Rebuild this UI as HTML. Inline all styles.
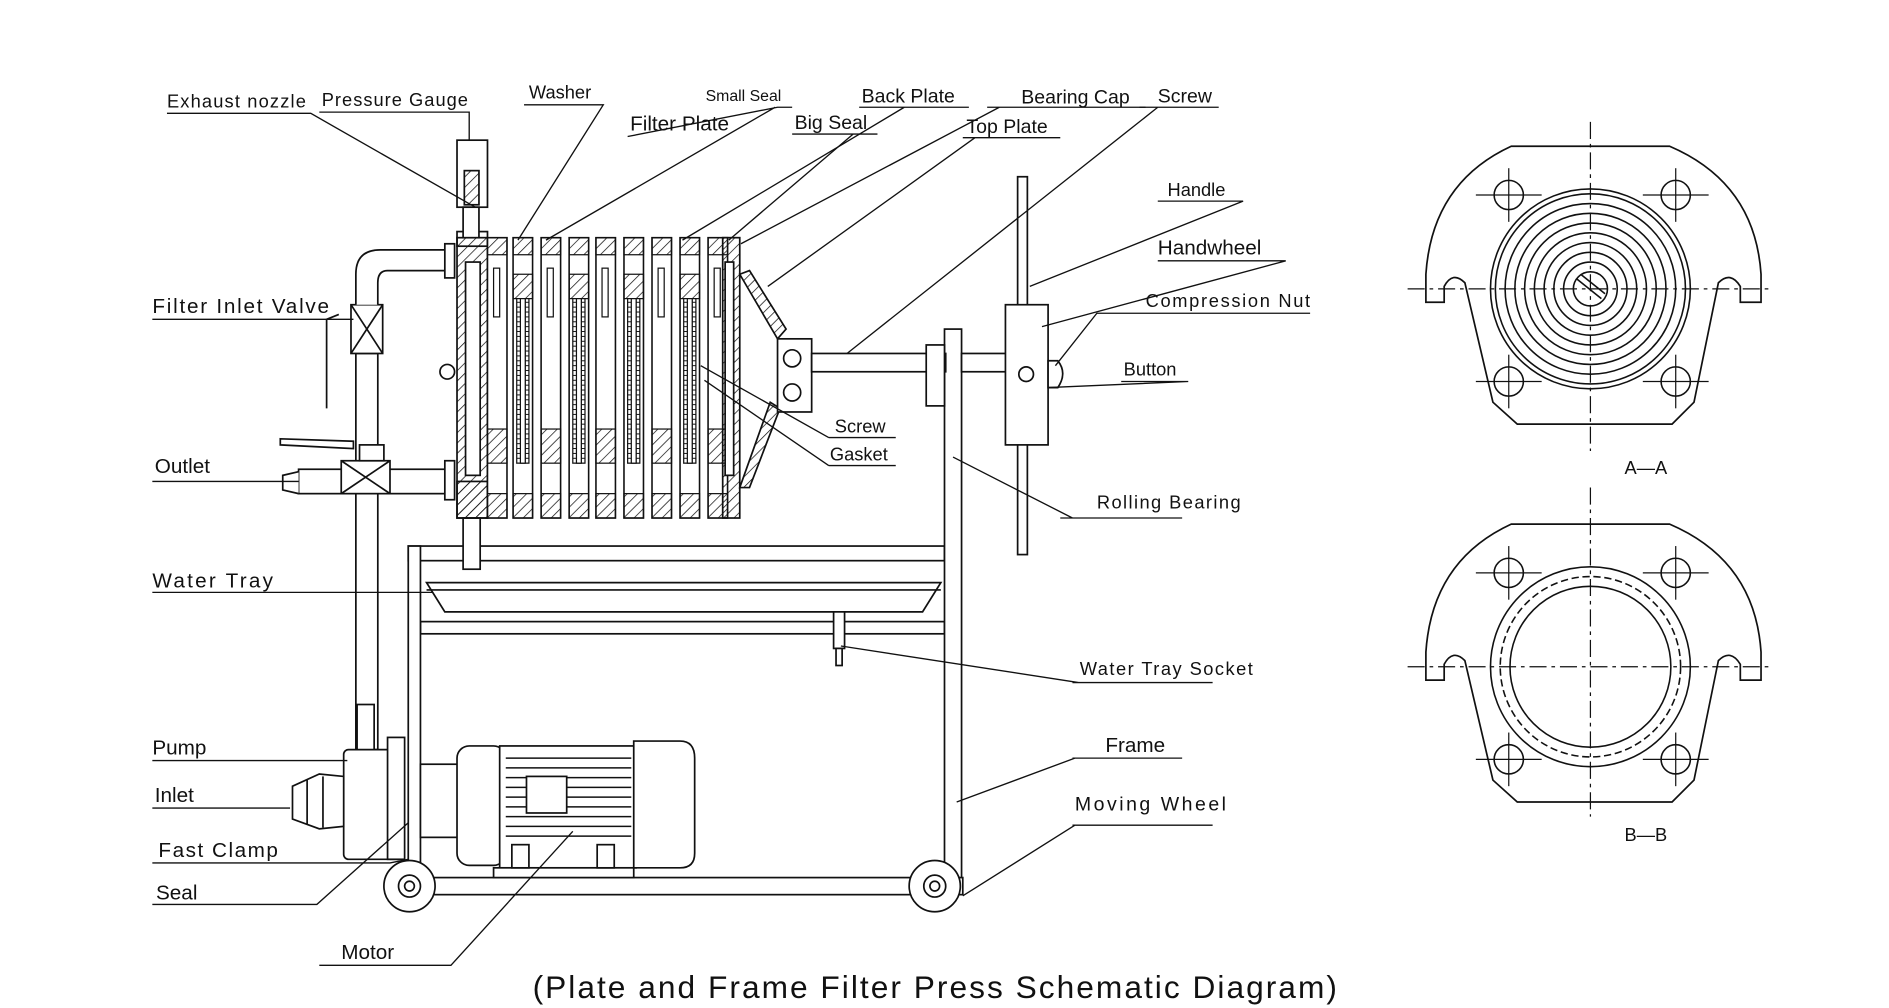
<!DOCTYPE html>
<html><head><meta charset="utf-8"><style>
html,body{margin:0;padding:0;background:#fff;}
svg{display:block;}
text{font-family:"Liberation Sans",sans-serif;fill:#111;}
</style></head><body>
<svg width="1889" height="1008" viewBox="0 0 1550 827" preserveAspectRatio="none" xmlns="http://www.w3.org/2000/svg">
<defs>
<pattern id="h" width="6" height="6" patternUnits="userSpaceOnUse" patternTransform="rotate(45)"><line x1="0" y1="0" x2="0" y2="6" stroke="#111" stroke-width="1.2"/></pattern>
<pattern id="g" width="10" height="4" patternUnits="userSpaceOnUse"><rect x="0" y="0" width="10" height="4" fill="#fff" stroke="#111" stroke-width="0.8"/></pattern>
<g id="pa">
<rect x="0" y="195" width="16" height="230" fill="#fff" stroke="#111" stroke-width="1.3"/>
<rect x="0" y="195" width="16" height="14" fill="url(#h)" stroke="#111"/>
<rect x="0" y="225" width="16" height="20" fill="url(#h)" stroke="#111"/>
<rect x="3" y="245" width="10" height="135" fill="url(#g)" stroke="#111"/>
<rect x="6" y="245" width="4" height="135" fill="#fff" stroke="#111"/>
<rect x="0" y="405" width="16" height="20" fill="url(#h)" stroke="#111"/>
</g>
<g id="pb">
<rect x="0" y="195" width="16" height="230" fill="#fff" stroke="#111" stroke-width="1.3"/>
<rect x="0" y="195" width="16" height="14" fill="url(#h)" stroke="#111"/>
<rect x="5" y="220" width="5" height="40" fill="#fff" stroke="#111"/>
<rect x="0" y="352" width="16" height="28" fill="url(#h)" stroke="#111"/>
<rect x="0" y="405" width="16" height="20" fill="url(#h)" stroke="#111"/>
</g>
<g id="bolt"><circle r="12" fill="none" stroke="#111" stroke-width="1.3"/><line x1="-27" y1="0" x2="27" y2="0" stroke="#111"/><line x1="0" y1="-22" x2="0" y2="22" stroke="#111"/></g>
<g id="body" fill="none" stroke="#111" stroke-width="1.4">
<path d="M1170,248 L1170,225 Q1175,150 1240,120 L1370,120 Q1440,150 1445,225 L1445,248 L1428,248 L1428,235 Q1420,222 1410,232 L1390,330 L1372,348 L1245,348 L1225,330 L1202,232 Q1192,222 1185,235 L1185,248 Z"/>
</g>
</defs>

<!-- right views -->
<g stroke="#111" fill="none">
<line x1="1305" y1="100" x2="1305" y2="370" stroke-dasharray="14,4,3,4"/>
<line x1="1155" y1="237" x2="1455" y2="237" stroke-dasharray="14,4,3,4"/>
<use href="#body"/>
<use href="#bolt" x="1238" y="160"/><use href="#bolt" x="1375" y="160"/>
<use href="#bolt" x="1238" y="313"/><use href="#bolt" x="1375" y="313"/>
<g stroke-width="1.3"><circle cx="1305" cy="237" r="14"/><circle cx="1305" cy="237" r="22"/><circle cx="1305" cy="237" r="30"/><circle cx="1305" cy="237" r="38"/><circle cx="1305" cy="237" r="46"/><circle cx="1305" cy="237" r="54"/><circle cx="1305" cy="237" r="62"/><circle cx="1305" cy="237" r="70"/><circle cx="1305" cy="237" r="78"/><circle cx="1305" cy="237" r="82"/>
<line x1="1294" y1="229" x2="1314" y2="245"/><line x1="1297" y1="225" x2="1317" y2="241"/></g>
</g>
<g stroke="#111" fill="none" transform="translate(0,310)">
<line x1="1305" y1="90" x2="1305" y2="360" stroke-dasharray="14,4,3,4"/>
<line x1="1155" y1="237" x2="1455" y2="237" stroke-dasharray="14,4,3,4"/>
<use href="#body"/>
<use href="#bolt" x="1238" y="160"/><use href="#bolt" x="1375" y="160"/>
<use href="#bolt" x="1238" y="313"/><use href="#bolt" x="1375" y="313"/>
<circle cx="1305" cy="237" r="82" stroke-width="1.3"/><circle cx="1305" cy="237" r="74" stroke-width="1.3" stroke-dasharray="6,3"/><circle cx="1305" cy="237" r="66" stroke-width="1.3"/>
</g>
<text x="1333" y="389" font-size="15">A—A</text>
<text x="1333" y="690" font-size="15">B—B</text>

<!-- frame -->
<g stroke="#111" fill="#fff" stroke-width="1.4">
<rect x="335" y="448" width="440" height="12"/>
<rect x="345" y="510" width="430" height="10"/>
<rect x="335" y="448" width="10" height="275"/>
<rect x="775" y="270" width="14" height="453"/>
<rect x="335" y="720" width="455" height="14"/>
<path d="M350,478 L772,478 L757,502 L365,502 Z"/>
<line x1="350" y1="484" x2="772" y2="484"/>
<rect x="684" y="502" width="9" height="30"/><rect x="686" y="532" width="5" height="14"/>
<rect x="380" y="425" width="14" height="42"/>
</g>
<!-- pump & pipes -->
<g stroke="#111" fill="#fff" stroke-width="1.4">
<rect x="292" y="290" width="18" height="325"/>
<path d="M292,290 L292,250 L310,250 L310,290"/>
<rect x="288" y="250" width="26" height="40"/><line x1="288" y1="250" x2="314" y2="290"/><line x1="314" y1="250" x2="288" y2="290"/>
<path d="M301,250 L301,215" />
<path d="M292,250 L292,225 Q292,205 312,205 L370,205 L370,222 L318,222 Q310,222 310,232 L310,250" />
<rect x="365" y="200" width="8" height="28"/>
<path d="M278,258 L268,262 L268,335" fill="none"/>
<rect x="245" y="385" width="125" height="20"/>
<rect x="280" y="378" width="40" height="27"/><line x1="280" y1="378" x2="320" y2="405"/><line x1="320" y1="378" x2="280" y2="405"/>
<rect x="295" y="365" width="20" height="13"/>
<path d="M230,360 L290,362 L290,368 L230,365 Z"/>
<rect x="365" y="378" width="8" height="32"/>
<path d="M245,387 L232,390 L232,402 L245,405"/>
<rect x="282" y="615" width="48" height="90" rx="4"/>
<rect x="318" y="605" width="14" height="100"/>
<rect x="293" y="578" width="14" height="37"/>
<path d="M282,637 L262,635 L240,645 L240,672 L262,680 L282,678 Z"/>
<line x1="252" y1="640" x2="252" y2="676"/><line x1="265" y1="637" x2="265" y2="679"/>
</g>
<!-- motor -->
<g stroke="#111" fill="#fff" stroke-width="1.4">
<rect x="345" y="627" width="35" height="60"/>
<rect x="375" y="612" width="40" height="98" rx="10"/>
<rect x="410" y="612" width="112" height="100"/>
<path d="M520,608 L558,608 Q570,608 570,622 L570,700 Q570,712 558,712 L520,712 Z"/>
<g stroke-width="1.2"><line x1="415" y1="622" x2="518" y2="622"/><line x1="415" y1="630" x2="518" y2="630"/><line x1="415" y1="638" x2="518" y2="638"/><line x1="415" y1="646" x2="518" y2="646"/><line x1="415" y1="654" x2="518" y2="654"/><line x1="415" y1="662" x2="518" y2="662"/><line x1="415" y1="670" x2="518" y2="670"/><line x1="415" y1="678" x2="518" y2="678"/><line x1="415" y1="686" x2="518" y2="686"/></g>
<rect x="432" y="637" width="33" height="30"/>
<rect x="405" y="712" width="115" height="8"/>
<rect x="420" y="693" width="14" height="19"/><rect x="490" y="693" width="14" height="19"/>
<circle cx="336" cy="727" r="21"/><circle cx="336" cy="727" r="9"/><circle cx="336" cy="727" r="4"/>
<circle cx="767" cy="727" r="21"/><circle cx="767" cy="727" r="9"/><circle cx="767" cy="727" r="4"/>
</g>
<!-- filter block -->
<g stroke="#111" stroke-width="1.4" fill="#fff">
<rect x="375" y="190" width="25" height="12"/>
<rect x="375" y="195" width="25" height="230" fill="url(#h)"/>
<rect x="382" y="215" width="12" height="175" fill="#fff"/>
<rect x="375" y="395" width="25" height="30" fill="url(#h)"/>
<rect x="375" y="115" width="25" height="55"/>
<rect x="381" y="140" width="12" height="28" fill="url(#h)"/>
<rect x="380" y="170" width="13" height="25"/>
<circle cx="367" cy="305" r="6"/>
</g>
<g>
<use href="#pb" x="400"/><use href="#pa" x="421"/><use href="#pb" x="444"/><use href="#pa" x="467"/><use href="#pb" x="489"/><use href="#pa" x="512"/><use href="#pb" x="535"/><use href="#pa" x="558"/><use href="#pb" x="581"/>
</g>
<g stroke="#111" stroke-width="1.4" fill="#fff">
<rect x="593" y="195" width="14" height="230" fill="url(#h)"/>
<rect x="595" y="215" width="7" height="175" fill="#fff"/>
<path d="M607,225 L615,222 L645,270 L638,278 Z" fill="url(#h)"/>
<path d="M607,400 L632,330 L640,335 L615,400 Z" fill="url(#h)"/>
<rect x="638" y="278" width="28" height="60"/>
<circle cx="650" cy="294" r="7"/><circle cx="650" cy="322" r="7"/>
<rect x="666" y="290" width="110" height="15"/>
<rect x="760" y="283" width="15" height="50"/>
<rect x="789" y="290" width="38" height="15"/>
<rect x="835" y="145" width="8" height="310"/>
<rect x="825" y="250" width="35" height="115"/>
<circle cx="842" cy="307" r="6"/>
<path d="M860,296 L868,296 Q876,306 868,318 L860,318 Z"/>
</g>

<!-- leader lines -->
<g stroke="#111" stroke-width="1.1" fill="none">
<path d="M137,93 L255,93 L390,170"/>
<path d="M262,92 L385,92 L385,115"/>
<path d="M430,86 L495,86 L425,197"/>
<path d="M515,112 L638,88 L650,88 M636,88 L448,197"/>
<path d="M705,88 L795,88 M742,88 L560,197"/>
<path d="M650,110 L720,110 M700,110 L598,197"/>
<path d="M810,88 L940,88 L940,88 M820,88 L608,200"/>
<path d="M935,88 L1000,88 M950,88 L695,290"/>
<path d="M790,113 L870,113 M800,113 L630,235"/>
<path d="M950,165 L1020,165 L845,235"/>
<path d="M950,214 L1055,214 L855,268"/>
<path d="M940,257 L1075,257 L900,257 L866,300"/>
<path d="M920,313 L975,313 L860,318"/>
<path d="M125,262 L290,262"/>
<path d="M125,395 L245,395"/>
<path d="M680,359 L735,359 M680,359 L575,300"/>
<path d="M680,382 L735,382 M680,382 L578,312"/>
<path d="M870,425 L970,425 M880,425 L782,375"/>
<path d="M125,486 L355,486"/>
<path d="M880,560 L995,560 M885,560 L690,530"/>
<path d="M125,624 L285,624"/>
<path d="M125,663 L238,663"/>
<path d="M880,622 L970,622 M882,622 L785,658"/>
<path d="M880,677 L995,677 M882,677 L790,735"/>
<path d="M125,708 L320,708 L335,705"/>
<path d="M125,742 L260,742 L335,675"/>
<path d="M262,792 L370,792 L470,682"/>
</g>

<!-- labels -->
<g font-size="15">
<text x="137" y="88" textLength="114">Exhaust nozzle</text>
<text x="264" y="87" textLength="120">Pressure Gauge</text>
<text x="434" y="81">Washer</text>
<text x="579" y="83" font-size="13">Small Seal</text>
<text x="707" y="84" font-size="16">Back Plate</text>
<text x="517" y="107" font-size="17">Filter Plate</text>
<text x="652" y="106" font-size="16">Big Seal</text>
<text x="838" y="85" font-size="16">Bearing Cap</text>
<text x="950" y="84" font-size="16">Screw</text>
<text x="793" y="109" font-size="16">Top Plate</text>
<text x="958" y="161">Handle</text>
<text x="950" y="209" font-size="17">Handwheel</text>
<text x="940" y="252" textLength="135">Compression Nut</text>
<text x="922" y="308">Button</text>
<text x="125" y="257" font-size="17" textLength="145">Filter Inlet Valve</text>
<text x="127" y="388" font-size="17">Outlet</text>
<text x="685" y="355">Screw</text>
<text x="681" y="378">Gasket</text>
<text x="900" y="417" textLength="118">Rolling Bearing</text>
<text x="125" y="482" font-size="17" textLength="99">Water Tray</text>
<text x="886" y="554" textLength="142">Water Tray Socket</text>
<text x="125" y="619" font-size="17">Pump</text>
<text x="127" y="658" font-size="17">Inlet</text>
<text x="907" y="617" font-size="17">Frame</text>
<text x="882" y="665" font-size="16" textLength="124">Moving  Wheel</text>
<text x="130" y="703" font-size="17" textLength="98">Fast Clamp</text>
<text x="128" y="738" font-size="17">Seal</text>
<text x="280" y="787" font-size="17">Motor</text>
<text x="437" y="819" font-size="26" textLength="660">(Plate and Frame Filter Press Schematic Diagram)</text>
</g>
</svg>
</body></html>
